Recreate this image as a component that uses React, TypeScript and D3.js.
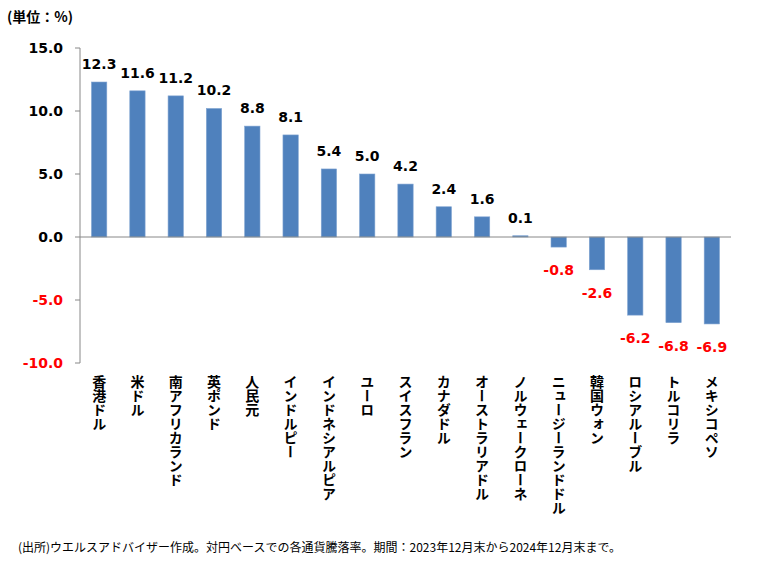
import * as d3 from "d3";
import React from "react";

const categories = [
  "香港ドル",
  "米ドル",
  "南アフリカランド",
  "英ポンド",
  "人民元",
  "インドルピー",
  "インドネシアルピア",
  "ユーロ",
  "スイスフラン",
  "カナダドル",
  "オーストラリアドル",
  "ノルウェークローネ",
  "ニュージーランドドル",
  "韓国ウォン",
  "ロシアルーブル",
  "トルコリラ",
  "メキシコペソ",
];
const values = [12.3, 11.6, 11.2, 10.2, 8.8, 8.1, 5.4, 5.0, 4.2, 2.4, 1.6, 0.1, -0.8, -2.6, -6.2, -6.8, -6.9];
const yTicks = [15, 10, 5, 0, -5, -10];

const unitLabel = "(単位：%)";
const sourceNote = "(出所)ウエルスアドバイザー作成。対円ベースでの各通貨騰落率。期間：2023年12月末から2024年12月末まで。";

const width = 760;
const height = 566;
const margin = { left: 80, right: 29, top: 48, bottom: 203 };
const barColor = "#4F81BD";
const numFont = "'DejaVu Sans', Verdana, sans-serif";
const jpFont = "'Noto Sans CJK JP', sans-serif";

const fmt = (v: number) => v.toFixed(1);

export default function App() {
  const x = d3
    .scaleBand<string>()
    .domain(categories)
    .range([margin.left, width - margin.right])
    .paddingInner(0.6)
    .paddingOuter(0.3);
  const y = d3.scaleLinear().domain([-10, 15]).range([height - margin.bottom, margin.top]);

  return (
    <svg width={width} height={height} style={{ position: "absolute", left: 0, top: 0, background: "#fff" }}>
      <text x={7} y={22} fontFamily={jpFont} fontWeight="bold" fontSize={14} fill="#000">
        {unitLabel}
      </text>

      {/* bars */}
      {values.map((v, i) => (
        <rect
          key={categories[i]}
          x={x(categories[i])!}
          y={y(Math.max(0, v))}
          width={x.bandwidth()}
          height={Math.abs(y(v) - y(0))}
          fill={barColor}
          stroke="#7fa3d1"
          strokeWidth={0.6}
        />
      ))}

      {/* y axis */}
      <line x1={margin.left} x2={margin.left} y1={y(15)} y2={y(-10)} stroke="#888" strokeWidth={1} />
      {yTicks.map((t) => (
        <g key={t}>
          <line x1={margin.left - 5} x2={margin.left} y1={y(t)} y2={y(t)} stroke="#888" />
          <text
            x={63}
            y={y(t)}
            dy="0.36em"
            textAnchor="end"
            fontFamily={numFont}
            fontWeight="bold"
            fontSize={14}
            fill={t < 0 ? "#FF0000" : "#000"}
          >
            {fmt(t)}
          </text>
        </g>
      ))}
      <line x1={margin.left} x2={width - margin.right} y1={y(0)} y2={y(0)} stroke="#888" strokeWidth={1} />

      {/* value labels */}
      {values.map((v, i) => (
        <text
          key={"v" + i}
          x={x(categories[i])! + x.bandwidth() / 2}
          y={v >= 0 ? y(v) - 13 : y(v) + 28}
          textAnchor="middle"
          fontFamily={numFont}
          fontWeight="bold"
          fontSize={14}
          fill={v < 0 ? "#FF0000" : "#000"}
        >
          {fmt(v)}
        </text>
      ))}

      {/* category labels */}
      {categories.map((c) => (
        <text
          key={"c" + c}
          x={x(c)! + x.bandwidth() / 2}
          y={375}
          fontFamily={jpFont}
          fontWeight="bold"
          fontSize={14}
          fill="#000"
          style={{ writingMode: "vertical-rl" }}
        >
          {c}
        </text>
      ))}

      <text x={18} y={552} fontFamily={jpFont} fontSize={12} fill="#000">
        {sourceNote}
      </text>
    </svg>
  );
}
